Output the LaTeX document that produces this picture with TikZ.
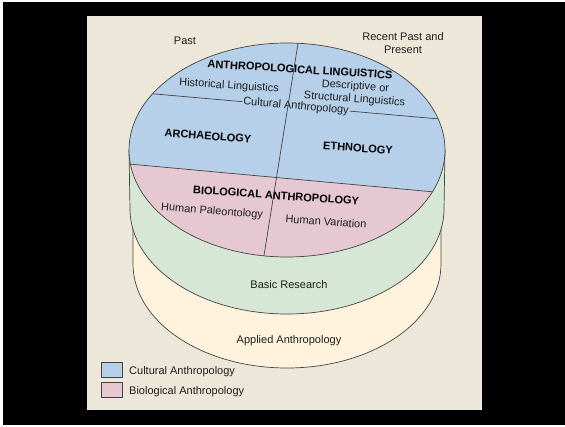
\documentclass[tikz,border=0pt]{standalone}
\usepackage{fontspec}
\setmainfont{Liberation Sans}
\usetikzlibrary{calc}
\definecolor{bgpanel}{HTML}{EDE7D9}
\definecolor{cultblue}{HTML}{B6D0E9}
\definecolor{biopink}{HTML}{E6C8D3}
\definecolor{basicgreen}{HTML}{D7E7D6}
\definecolor{appliedyellow}{HTML}{FFF3DD}
\definecolor{edgegray}{HTML}{444444}
\definecolor{txt}{HTML}{1E1E1E}
\begin{document}
\begin{tikzpicture}[x=1pt,y=-1pt,
  outline/.style={draw=edgegray, line width=0.7pt},
  lbl/.style={font=\fontsize{11}{13}\selectfont, text=txt, inner sep=0pt},
  head/.style={font=\fontsize{11}{13}\selectfont\bfseries, text=black, inner sep=0pt},
  legendbox/.style={draw=edgegray, line width=0.7pt}]
\useasboundingbox (0,0) rectangle (565,426);
\fill[white] (0,0) rectangle (565,426);
\fill[black] (3,2) rectangle (565,425);
\fill[bgpanel] (87,16) rectangle (482,410);

% applied layer
\filldraw[fill=appliedyellow, outline] (133,209) -- (133,264)
  arc[start angle=180, end angle=0, x radius=154, y radius=104] -- (441,209);
% basic layer
\filldraw[fill=basicgreen, outline] (129,150) -- (130,209)
  arc[start angle=180, end angle=0, x radius=157, y radius=105] -- (445,150);

% top face
\coordinate (c) at (287,150);
\coordinate (l1a) at ($(c)+(211.7:158 and 107)$);
\coordinate (l1b) at ($(c)+(343.1:158 and 107)$);
\coordinate (l2a) at ($(c)+(172.4:158 and 107)$);
\coordinate (l2b) at ($(c)+(23:158 and 107)$);
\coordinate (vt) at ($(c)+(274:158 and 107)$);
\coordinate (vb) at ($(c)+(98.4:158 and 107)$);
\fill[cultblue] (c) ellipse[x radius=158, y radius=107];
\fill[biopink] (l2a) -- (l2b) arc[start angle=23, end angle=172.4, x radius=158, y radius=107] -- cycle;
\draw[outline] (l1a) -- (l1b);
\draw[outline] (l2a) -- (l2b);

\node[lbl, fill=cultblue, inner sep=1pt, rotate=-5] (cultural) at (296,106.5) {Cultural Anthropology};
\draw[outline] (vt) -- (vb);
\draw[outline] (c) ellipse[x radius=158, y radius=107];

% texts
\node[lbl] (past) at (185,41) {Past};
\node[lbl, align=center, font=\fontsize{11}{12.5}\selectfont] (recent) at (403,43) {Recent Past and\\Present};
\node[head, rotate=-3.5] (ling) at (300,69.5) {ANTHROPOLOGICAL LINGUISTICS};
\node[lbl, rotate=-3.5] (hist) at (229,86) {Historical Linguistics};
\node[lbl, rotate=-4, align=center, font=\fontsize{11}{13}\selectfont] (descr) at (355,93) {Descriptive or\\Structural Linguistics};
\node[head, rotate=-4] (arch) at (208,136) {ARCHAEOLOGY};
\node[head, rotate=-4] (ethno) at (358,148) {ETHNOLOGY};
\node[head, rotate=-4] (bio) at (276,195.5) {BIOLOGICAL ANTHROPOLOGY};
\node[lbl, rotate=-4.5] (paleo) at (212,211.5) {Human Paleontology};
\node[lbl, rotate=-4] (variation) at (326,221.5) {Human Variation};
\node[lbl] (basic) at (289,285) {Basic Research};
\node[lbl] (applied) at (289,341) {Applied Anthropology};

% legend
\filldraw[fill=cultblue, legendbox] (101,362) rectangle (122,377);
\filldraw[fill=biopink, legendbox] (101,382) rectangle (122,397);
\node[lbl, anchor=west] (legcult) at (129,372) {Cultural Anthropology};
\node[lbl, anchor=west] (legbio) at (129,392) {Biological Anthropology};
\end{tikzpicture}
\end{document}
